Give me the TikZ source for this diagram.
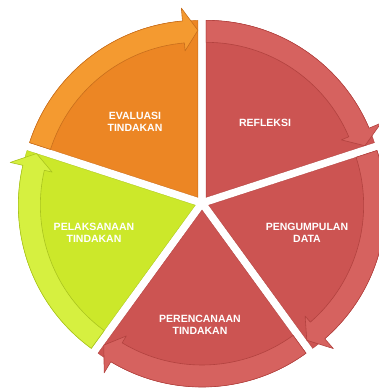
\documentclass[tikz,border=0pt]{standalone}
\usepackage{fontspec}
\setmainfont{Liberation Sans}
\definecolor{redseg}{RGB}{204,84,82}
\definecolor{redband}{RGB}{214,98,95}
\definecolor{redline}{RGB}{178,66,63}
\definecolor{orangeseg}{RGB}{236,134,36}
\definecolor{orangeband}{RGB}{244,154,48}
\definecolor{orangeline}{RGB}{200,110,28}
\definecolor{limeseg}{RGB}{204,232,42}
\definecolor{limeband}{RGB}{214,240,64}
\definecolor{limeline}{RGB}{170,196,30}
\tikzset{
  slice/.style={line width=0.3pt},
  band/.style={line width=0.6pt, line join=round},
  lbl/.style={text=white, font=\bfseries\fontsize{10.5}{12.5}\selectfont, align=center, inner sep=0pt}
}
\begin{document}
\begin{tikzpicture}[x=1pt,y=1pt]
\useasboundingbox (0,0) rectangle (379,389);
\begin{scope}[shift={(202,186)}]
	\begin{scope}[shift={(54:7)}]
		\filldraw [slice,fill=redseg,draw=redline] (0,0) -- (90:177) arc[start angle=90,end angle=18,radius=177] -- cycle;
		\filldraw [band,fill=redband,draw=redline] (90:177) arc[start angle=90,end angle=23,radius=177] -- (23:190) -- (18:167) -- (23:147) -- (23:155) arc[start angle=23,end angle=90,radius=155] -- cycle;
	\end{scope}
	\begin{scope}[shift={(-18:7)}]
		\filldraw [slice,fill=redseg,draw=redline] (0,0) -- (18:177) arc[start angle=18,end angle=-54,radius=177] -- cycle;
		\filldraw [band,fill=redband,draw=redline] (18:177) arc[start angle=18,end angle=-49,radius=177] -- (-49:190) -- (-54:167) -- (-49:147) -- (-49:155) arc[start angle=-49,end angle=18,radius=155] -- cycle;
	\end{scope}
	\begin{scope}[shift={(-90:7)}]
		\filldraw [slice,fill=redseg,draw=redline] (0,0) -- (-54:177) arc[start angle=-54,end angle=-126,radius=177] -- cycle;
		\filldraw [band,fill=redband,draw=redline] (-54:177) arc[start angle=-54,end angle=-121,radius=177] -- (-121:190) -- (-126:167) -- (-121:147) -- (-121:155) arc[start angle=-121,end angle=-54,radius=155] -- cycle;
	\end{scope}
	\begin{scope}[shift={(198:7)}]
		\filldraw [slice,fill=limeseg,draw=limeline] (0,0) -- (234:177) arc[start angle=234,end angle=162,radius=177] -- cycle;
		\filldraw [band,fill=limeband,draw=limeline] (234:177) arc[start angle=234,end angle=167,radius=177] -- (167:190) -- (162:167) -- (167:147) -- (167:155) arc[start angle=167,end angle=234,radius=155] -- cycle;
	\end{scope}
	\begin{scope}[shift={(126:7)}]
		\filldraw [slice,fill=orangeseg,draw=orangeline] (0,0) -- (162:177) arc[start angle=162,end angle=90,radius=177] -- cycle;
		\filldraw [band,fill=orangeband,draw=orangeline] (162:177) arc[start angle=162,end angle=95,radius=177] -- (95:190) -- (90:167) -- (95:147) -- (95:155) arc[start angle=95,end angle=162,radius=155] -- cycle;
	\end{scope}
\end{scope}
\node [lbl] (refleksi) at (265,266) {REFLEKSI};
\node [lbl] (pengumpulan) at (307,156) {PENGUMPULAN\\DATA};
\node [lbl] (perencanaan) at (200,64) {PERENCANAAN\\TINDAKAN};
\node [lbl] (pelaksanaan) at (94,156) {PELAKSANAAN\\TINDAKAN};
\node [lbl] (evaluasi) at (135,267) {EVALUASI\\TINDAKAN};
\end{tikzpicture}
\end{document}
